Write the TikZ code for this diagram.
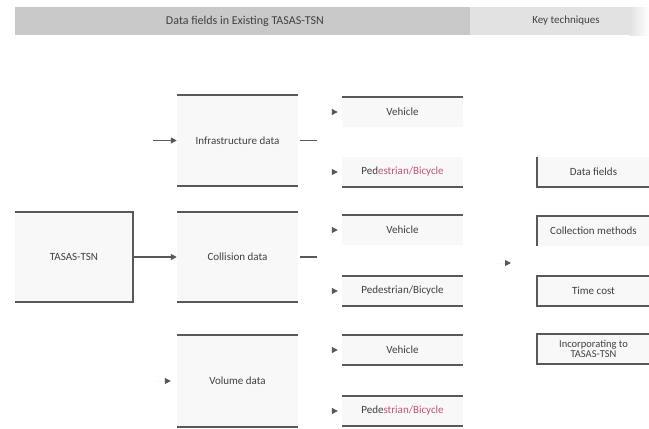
\documentclass[tikz,border=0pt]{standalone}
\usepackage{fontspec}
\setmainfont{Carlito}
\usetikzlibrary{arrows.meta,calc}

\definecolor{rulegray}{HTML}{595959}
\definecolor{txtgray}{HTML}{404040}
\definecolor{barDark}{HTML}{C9C9C9}
\definecolor{barLight}{HTML}{E2E2E2}
\definecolor{boxfill}{HTML}{F8F8F8}
\definecolor{typo}{HTML}{C8507A}

\begin{document}
\begin{tikzpicture}[x=1pt,y=-1pt,
    rule/.style={draw=rulegray,line width=1.8pt},
    lbl/.style={text=txtgray,font=\fontsize{11}{12}\selectfont,align=center},
    bigbox/.style={lbl,fill=boxfill,minimum width=121pt,minimum height=91pt,inner sep=0pt},
    subbox/.style={lbl,fill=boxfill,minimum width=121pt,minimum height=30pt,inner sep=0pt},
    keybox/.style={lbl,fill=boxfill,minimum width=113pt,minimum height=30pt,inner sep=0pt},
    arr/.style={draw=rulegray,line width=1.6pt,-{Triangle[length=6pt,width=6pt]}},
    ghost/.style={draw=boxfill,line width=1pt,-{Triangle[length=6pt,width=6pt,color=rulegray]}}]
          \useasboundingbox (0,0) rectangle (649,429);

          \fill[barDark] (15,7) rectangle (470,35);
          \fill[barLight] (470,7) rectangle (630,35);
          \shade[left color=barLight,right color=white] (630,7) rectangle (649,35);
          \node[lbl,font=\fontsize{12}{13}\selectfont] (hdata) at (245,21) {Data fields in Existing TASAS-TSN};
          \node[lbl] (hkey) at (566,21) {Key techniques};

          \node[bigbox,minimum width=118pt,minimum height=90pt] (tsn) at (74,257) {TASAS-TSN};
          \draw[rule] (tsn.north west) -- (tsn.north east) -- (tsn.south east) -- (tsn.south west);

          \node[bigbox] (infra) at (237.5,140.5) {Infrastructure data};
          \node[bigbox,minimum height=90pt] (coll) at (237.5,257) {Collision data};
          \node[bigbox,minimum height=92pt] (vol) at (237.5,381) {Volume data};
          \draw[rule] (infra.north west) -- (infra.north east);
          \draw[rule] (infra.south west) -- (infra.south east);
          \draw[rule] (coll.north west) -- (coll.north east);
          \draw[rule] (coll.south west) -- (coll.south east);
          \draw[rule] (vol.north west) -- (vol.north east);
          \draw[rule] (vol.south west) -- (vol.south east);

          \node[subbox] (v1) at (402.5,112) {Vehicle};
          \node[subbox] (p1) at (402.5,172) {Ped\textcolor{typo}{estrian/Bicycle}};
          \node[subbox] (v2) at (402.5,230) {Vehicle};
          \node[subbox] (p2) at (402.5,291) {Pedestrian/Bicycle};
          \node[subbox] (v3) at (402.5,350) {Vehicle};
          \node[subbox] (p3) at (402.5,411) {Pede\textcolor{typo}{strian/Bicycle}};
          \draw[rule] (v1.north west) -- (v1.north east);
          \draw[rule] (p1.south west) -- (p1.south east);
          \draw[rule] (v2.north west) -- (v2.north east);
          \draw[rule] (p2.north west) -- (p2.north east);
          \draw[rule] (p2.south west) -- (p2.south east);
          \draw[rule] (v3.north west) -- (v3.north east);
          \draw[rule] (v3.south west) -- (v3.south east);
          \draw[rule] (p3.north west) -- (p3.north east);
          \draw[rule] (p3.south west) -- (p3.south east);

          \node[keybox] (kdata) at (593.5,172) {Data fields};
          \node[keybox] (kcoll) at (593.5,231) {Collection methods};
          \node[keybox] (ktime) at (593.5,291) {Time cost};
          \node[keybox,font=\fontsize{10.5}{10.5}\selectfont] (kinc) at (593.5,349) {Incorporating to\\TASAS-TSN};
          \draw[rule] (kdata.north west) -- (kdata.south west) -- (kdata.south east);
          \draw[rule] (kcoll.north east) -- (kcoll.north west) -- (kcoll.south west);
          \draw[rule] (ktime.north east) -- (ktime.north west) -- (ktime.south west) -- (ktime.south east);
          \draw[rule] (kinc.north east) -- (kinc.north west) -- (kinc.south west) -- (kinc.south east);

          \coordinate (istart) at (153,140.5);
          \coordinate (iend) at (317,140.5);
          \coordinate (cend) at (317,257);
          \coordinate (vstart) at (156,381);
          \coordinate (kstart) at (496,263);
          \coordinate (kend) at (511,263);

          \draw[arr] (istart) -- (infra.west);
          \draw[arr] (tsn.east) -- (coll.west);
          \draw[ghost,shorten >=6pt] (vstart) -- (vol.west);
          \draw[rule,shorten <=2pt] (infra.east) -- (iend);
          \draw[rule,shorten <=2pt] (coll.east) -- (cend);
          \foreach \n in {v1,p1,v2,p2,v3,p3}
            \draw[ghost,shorten >=4pt] ($(\n.west)+(-16,0)$) -- (\n.west);
          \draw[ghost] (kstart) -- (kend);

          \end{tikzpicture}
\end{document}
